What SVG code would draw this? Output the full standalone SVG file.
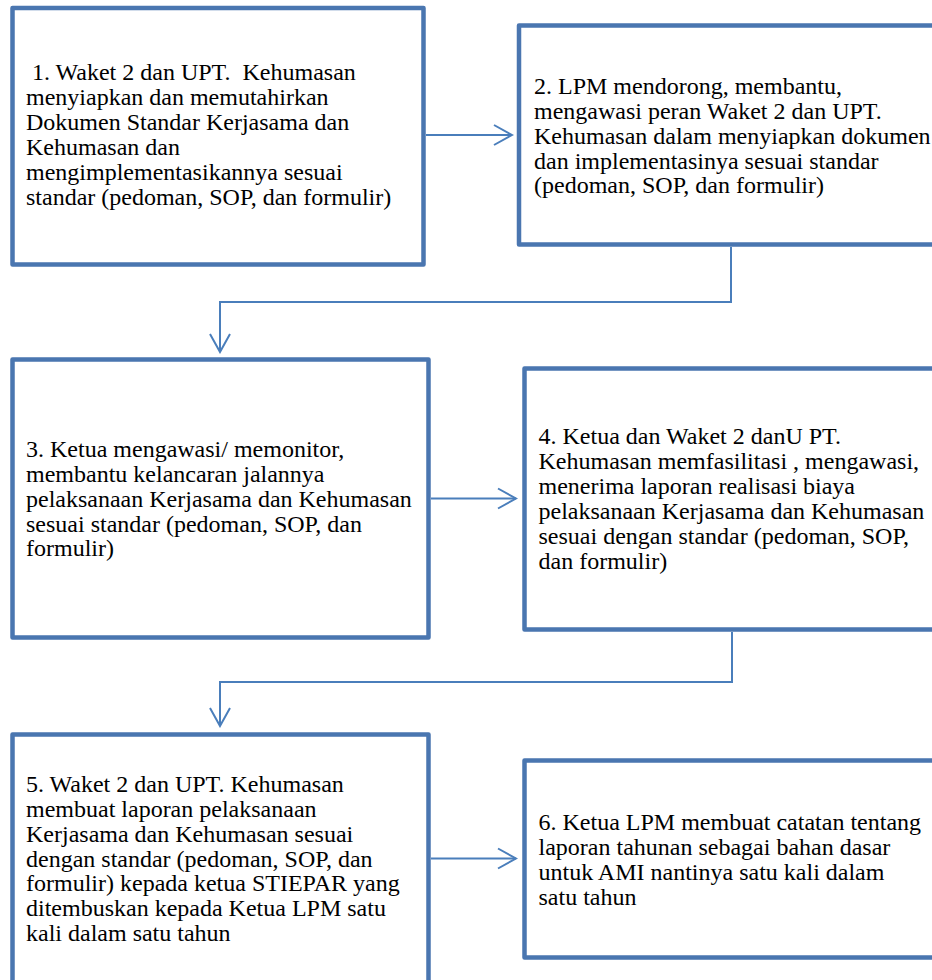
<svg xmlns="http://www.w3.org/2000/svg" width="932" height="980" viewBox="0 0 932 980">
<style>
.box{fill:#fff;stroke:#4A76B0;stroke-width:4.5;stroke-linejoin:round}
.con{fill:none;stroke:#4A7EBB;stroke-width:2}
.t{font-family:"Liberation Serif","Times New Roman",serif;font-size:24px;fill:#000}
</style>
<defs>
<marker id="arr" viewBox="0 0 22 24" refX="20" refY="12" markerWidth="22" markerHeight="24" markerUnits="userSpaceOnUse" orient="auto">
<path d="M2,2 L20,12 L2,22" fill="none" stroke="#4A7EBB" stroke-width="2"/>
</marker>
</defs>
<rect width="932" height="980" fill="#fff"/>
<g id="connectors">
<path class="con" d="M426,135 H512" marker-end="url(#arr)"/>
<path class="con" d="M731,247 V302 H220 V352" marker-end="url(#arr)"/>
<path class="con" d="M431,498.5 H516" marker-end="url(#arr)"/>
<path class="con" d="M732,632 V682 H220 V726" marker-end="url(#arr)"/>
<path class="con" d="M431,858.5 H516" marker-end="url(#arr)"/>
</g>
<g id="node1">
<rect class="box" x="12.5" y="8" width="411" height="256.5"/>
<text class="t" x="26" y="80" xml:space="preserve"> 1. Waket 2 dan UPT.  Kehumasan</text>
<text class="t" x="26" y="105">menyiapkan dan memutahirkan</text>
<text class="t" x="26" y="130">Dokumen Standar Kerjasama dan</text>
<text class="t" x="26" y="155">Kehumasan dan</text>
<text class="t" x="26" y="180">mengimplementasikannya sesuai</text>
<text class="t" x="26" y="205">standar (pedoman, SOP, dan formulir)</text>
</g>
<g id="node2">
<rect class="box" x="519" y="25.5" width="430" height="219"/>
<text class="t" x="534" y="93.5">2. LPM mendorong, membantu,</text>
<text class="t" x="534" y="118.5">mengawasi peran Waket 2 dan UPT.</text>
<text class="t" x="534" y="143.5">Kehumasan dalam menyiapkan dokumen</text>
<text class="t" x="534" y="168.5">dan implementasinya sesuai standar</text>
<text class="t" x="534" y="193">(pedoman, SOP, dan formulir)</text>
</g>
<g id="node3">
<rect class="box" x="12.5" y="359.5" width="416" height="278"/>
<text class="t" x="26" y="456.5">3. Ketua mengawasi/ memonitor,</text>
<text class="t" x="26" y="481.5">membantu kelancaran jalannya</text>
<text class="t" x="26" y="506.5">pelaksanaan Kerjasama dan Kehumasan</text>
<text class="t" x="26" y="531.5">sesuai standar (pedoman, SOP, dan</text>
<text class="t" x="26" y="556">formulir)</text>
</g>
<g id="node4">
<rect class="box" x="524.5" y="368.5" width="430" height="261"/>
<text class="t" x="538.5" y="444">4. Ketua dan Waket 2 danU PT.</text>
<text class="t" x="538.5" y="469">Kehumasan memfasilitasi , mengawasi,</text>
<text class="t" x="538.5" y="494">menerima laporan realisasi biaya</text>
<text class="t" x="538.5" y="519">pelaksanaan Kerjasama dan Kehumasan</text>
<text class="t" x="538.5" y="544">sesuai dengan standar (pedoman, SOP,</text>
<text class="t" x="538.5" y="569">dan formulir)</text>
</g>
<g id="node5">
<rect class="box" x="12.5" y="734.5" width="416" height="300"/>
<text class="t" x="26" y="791.5">5. Waket 2 dan UPT.  Kehumasan</text>
<text class="t" x="26" y="816.5">membuat laporan pelaksanaan</text>
<text class="t" x="26" y="841.5">Kerjasama dan Kehumasan sesuai</text>
<text class="t" x="26" y="866.5">dengan standar (pedoman, SOP, dan</text>
<text class="t" x="26" y="891">formulir) kepada ketua STIEPAR yang</text>
<text class="t" x="26" y="916">ditembuskan kepada Ketua LPM satu</text>
<text class="t" x="26" y="941">kali dalam satu tahun</text>
</g>
<g id="node6">
<rect class="box" x="524.5" y="760.5" width="430" height="197"/>
<text class="t" x="538.5" y="829.5">6. Ketua LPM membuat catatan tentang</text>
<text class="t" x="538.5" y="854.5">laporan tahunan sebagai bahan dasar</text>
<text class="t" x="538.5" y="879.5">untuk AMI nantinya satu kali dalam</text>
<text class="t" x="538.5" y="904.5">satu tahun</text>
</g>
</svg>
